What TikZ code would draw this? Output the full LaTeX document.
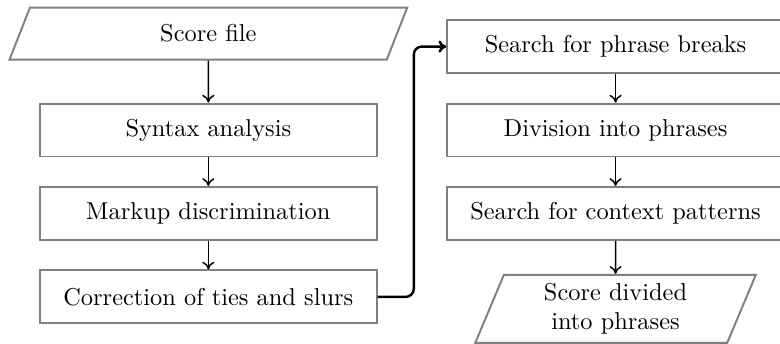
\documentclass[tikz,border=0pt]{standalone}
\usetikzlibrary{
  arrows.meta,
  shapes.geometric,
  chains,
  matrix,
  positioning,
  scopes
}

\begin{document}
\begin{tikzpicture}[
      process/.style={
         rectangle,
         minimum width=138pt,
         minimum height=21.7pt,
         thick,
         draw=black!50
      },
      data/.style={
         trapezium,
         trapezium left angle=#1,
         trapezium right angle=180-#1,
         trapezium stretches body=true,
         thick,
         draw=black!50,
         align=center
      },
      >={To[length=3.2pt,width=5pt]},semithick,
      tip/.style={->},every join/.style={rounded corners},
    ]
    \matrix[column sep=15.6pt, row sep=11.7pt] {
\node (n11) [data=59, minimum width=163pt, minimum height=21.3pt, yshift=5.3pt] {Score file}; & \node (n12) [process] {Search for phrase breaks};\\
\node (n21) [process] {Syntax analysis}; & \node (n22) [process] {Division into phrases};\\
\node (n31) [process] {Markup discrimination}; & \node (n32) [process] {Search for context patterns};\\
\node (n41) [process] {Correction of ties and slurs}; & \node (n42) [data=67, minimum width=115pt, minimum height=27.9pt, yshift=-4.9pt] {Score divided\\into phrases};\\
    };
  \pgfresetboundingbox
  \useasboundingbox ([xshift=-16pt,yshift=53.3pt]n21.west) rectangle ++(319.7pt,-140.6pt);
  { [start chain]
       \chainin (n11);
       \chainin (n21)    [join=by tip];
  }
  { [start chain]
       \chainin (n21);
       \chainin (n31)    [join=by tip];
  }
  { [start chain]
       \chainin (n31);
       \chainin (n41)    [join=by tip];
  }
  { [start chain]
       \chainin (n12);
       \chainin (n22)    [join=by tip];
  }
  { [start chain]
       \chainin (n22);
       \chainin (n32)    [join=by tip];
  }
  { [start chain]
       \chainin (n32);
       \chainin (n42)    [join=by tip];
  }
  % jump over to the second column
  \draw[tip, line width=1pt, rounded corners=3.3pt] (n41.east) -- ++(14.8pt,0) |- (n12.west);
\end{tikzpicture}
\end{document}
